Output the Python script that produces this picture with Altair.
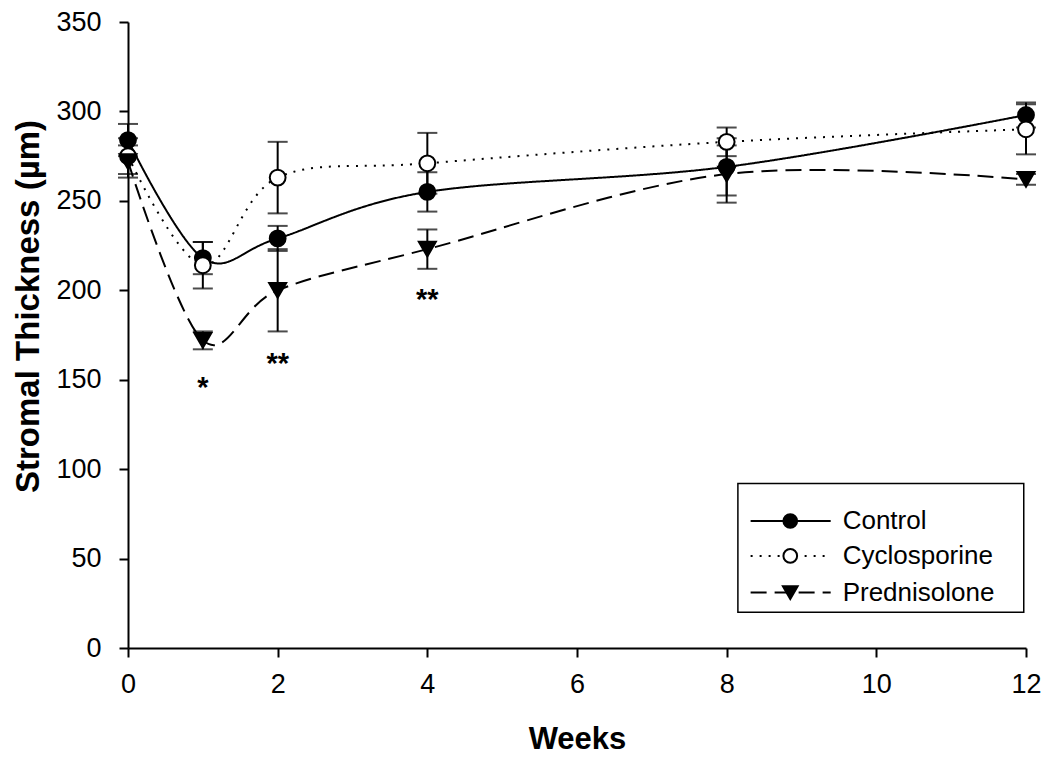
import altair as alt
import pandas as pd

weeks = [0, 1, 2, 4, 8, 12]
control_mean = [284, 218, 229, 255, 269, 298]
control_err = [9, 9, 7, 11, 16, 7]
cyclo_mean = [275, 214, 263, 271, 283, 290]
cyclo_err = [10, 13, 20, 17, 8, 14]
pred_mean = [272, 172, 200, 223, 265, 262]
pred_err = [9, 5, 23, 11, 16, 3]

series_names = ["Control", "Cyclosporine", "Prednisolone"]

star_weeks = [1, 2, 4]
star_values = [149, 162, 198]
star_text = ["*", "**", "**"]

# legend placed in data units
legend_box_x = [8.15, 11.97]
legend_box_y = [20, 92]
legend_line_x = [8.32, 9.39]
legend_marker_x = 8.85
legend_text_x = 9.55
legend_rows_y = [71, 51.5, 31]

FONT = "Liberation Sans"

xs = alt.Scale(domain=[0, 12], nice=False)
ys = alt.Scale(domain=[0, 350], nice=False)

styles = {
    "Control": dict(dash=[1, 0], shape="circle", fill="black", size=250),
    "Cyclosporine": dict(dash=[2, 7], shape="circle", fill="white", size=250),
    "Prednisolone": dict(dash=[16, 8], shape="triangle-down", fill="black", size=290),
}

data = {
    "Control": (control_mean, control_err),
    "Cyclosporine": (cyclo_mean, cyclo_err),
    "Prednisolone": (pred_mean, pred_err),
}

x_axis = alt.Axis(values=[0, 2, 4, 6, 8, 10, 12], format="d", title="Weeks", grid=False,
                  labelFontSize=27, titleFontSize=31, titlePadding=27,
                  tickSize=9, labelPadding=14)
y_axis = alt.Axis(values=[0, 50, 100, 150, 200, 250, 300, 350], format="d",
                  title="Stromal Thickness (µm)", grid=False,
                  labelFontSize=27, titleFontSize=33, titlePadding=10, titleY=284,
                  tickSize=9, labelPadding=18)

line_layers = []
err_layers = []
point_layers = []
for name in series_names:
    m, e = data[name]
    df = pd.DataFrame({
        "week": weeks, "mean": m,
        "lo": [a - b for a, b in zip(m, e)],
        "hi": [a + b for a, b in zip(m, e)],
        "series": name,
    })
    st = styles[name]
    line_layers.append(
        alt.Chart(df).mark_line(color="black", strokeWidth=2, strokeDash=st["dash"],
                                interpolate="cardinal")
        .encode(x=alt.X("week:Q", scale=xs, axis=x_axis),
                y=alt.Y("mean:Q", scale=ys, axis=y_axis))
    )
    err_layers.append(
        alt.Chart(df).mark_rule(color="black", strokeWidth=2)
        .encode(x="week:Q", y="lo:Q", y2="hi:Q")
    )
    err_layers.append(
        alt.Chart(df).mark_tick(color="black", thickness=2, size=20, orient="horizontal")
        .encode(x="week:Q", y="hi:Q")
    )
    err_layers.append(
        alt.Chart(df).mark_tick(color="black", thickness=2, size=20, orient="horizontal")
        .encode(x="week:Q", y="lo:Q")
    )
    point_layers.append(
        alt.Chart(df).mark_point(shape=st["shape"], filled=False, fill=st["fill"],
                                 stroke="black", strokeWidth=2, size=st["size"], opacity=1)
        .encode(x="week:Q", y="mean:Q")
    )

stars_df = pd.DataFrame({"week": star_weeks, "v": star_values, "t": star_text})
stars = alt.Chart(stars_df).mark_text(font=FONT, fontSize=29, fontWeight="bold",
                                      color="black", baseline="middle", dy=6).encode(
    x="week:Q", y="v:Q", text="t:N")

# legend
box_df = pd.DataFrame({"x": [legend_box_x[0]], "x2": [legend_box_x[1]],
                       "y": [legend_box_y[0]], "y2": [legend_box_y[1]]})
box = alt.Chart(box_df).mark_rect(fill="white", stroke="black", strokeWidth=1.5).encode(
    x="x:Q", x2="x2:Q", y="y:Q", y2="y2:Q")

leg_layers = [box]
for name, ly in zip(series_names, legend_rows_y):
    st = styles[name]
    ldf = pd.DataFrame({"x": [legend_line_x[0]], "x2": [legend_line_x[1]], "y": [ly]})
    leg_layers.append(
        alt.Chart(ldf).mark_rule(color="black", strokeWidth=2, strokeDash=st["dash"])
        .encode(x="x:Q", x2="x2:Q", y="y:Q"))
    pdf = pd.DataFrame({"x": [legend_marker_x], "y": [ly]})
    leg_layers.append(
        alt.Chart(pdf).mark_point(shape=st["shape"], filled=False, fill=st["fill"],
                                  stroke="black", strokeWidth=2, size=st["size"] * 0.75,
                                  opacity=1)
        .encode(x="x:Q", y="y:Q"))
    tdf = pd.DataFrame({"x": [legend_text_x], "y": [ly], "t": [name]})
    leg_layers.append(
        alt.Chart(tdf).mark_text(font=FONT, fontSize=26, align="left", baseline="middle",
                                 color="black")
        .encode(x="x:Q", y="y:Q", text="t:N"))

chart = alt.layer(*line_layers, *err_layers, *point_layers, stars, *leg_layers).properties(
    width=898, height=626,
    autosize=alt.AutoSizeParams(type="none"),
    padding={"left": 120, "top": 14, "right": 16, "bottom": 110},
    background="white",
).configure_axis(
    labelFont=FONT, titleFont=FONT, labelColor="black", titleColor="black",
    domainColor="black", tickColor="black", domainWidth=2, tickWidth=2,
    titleFontWeight="bold", labelFlush=False,
).configure_view(stroke=None)

chart.save("out.html", embed_options={"renderer": "svg", "actions": False})
